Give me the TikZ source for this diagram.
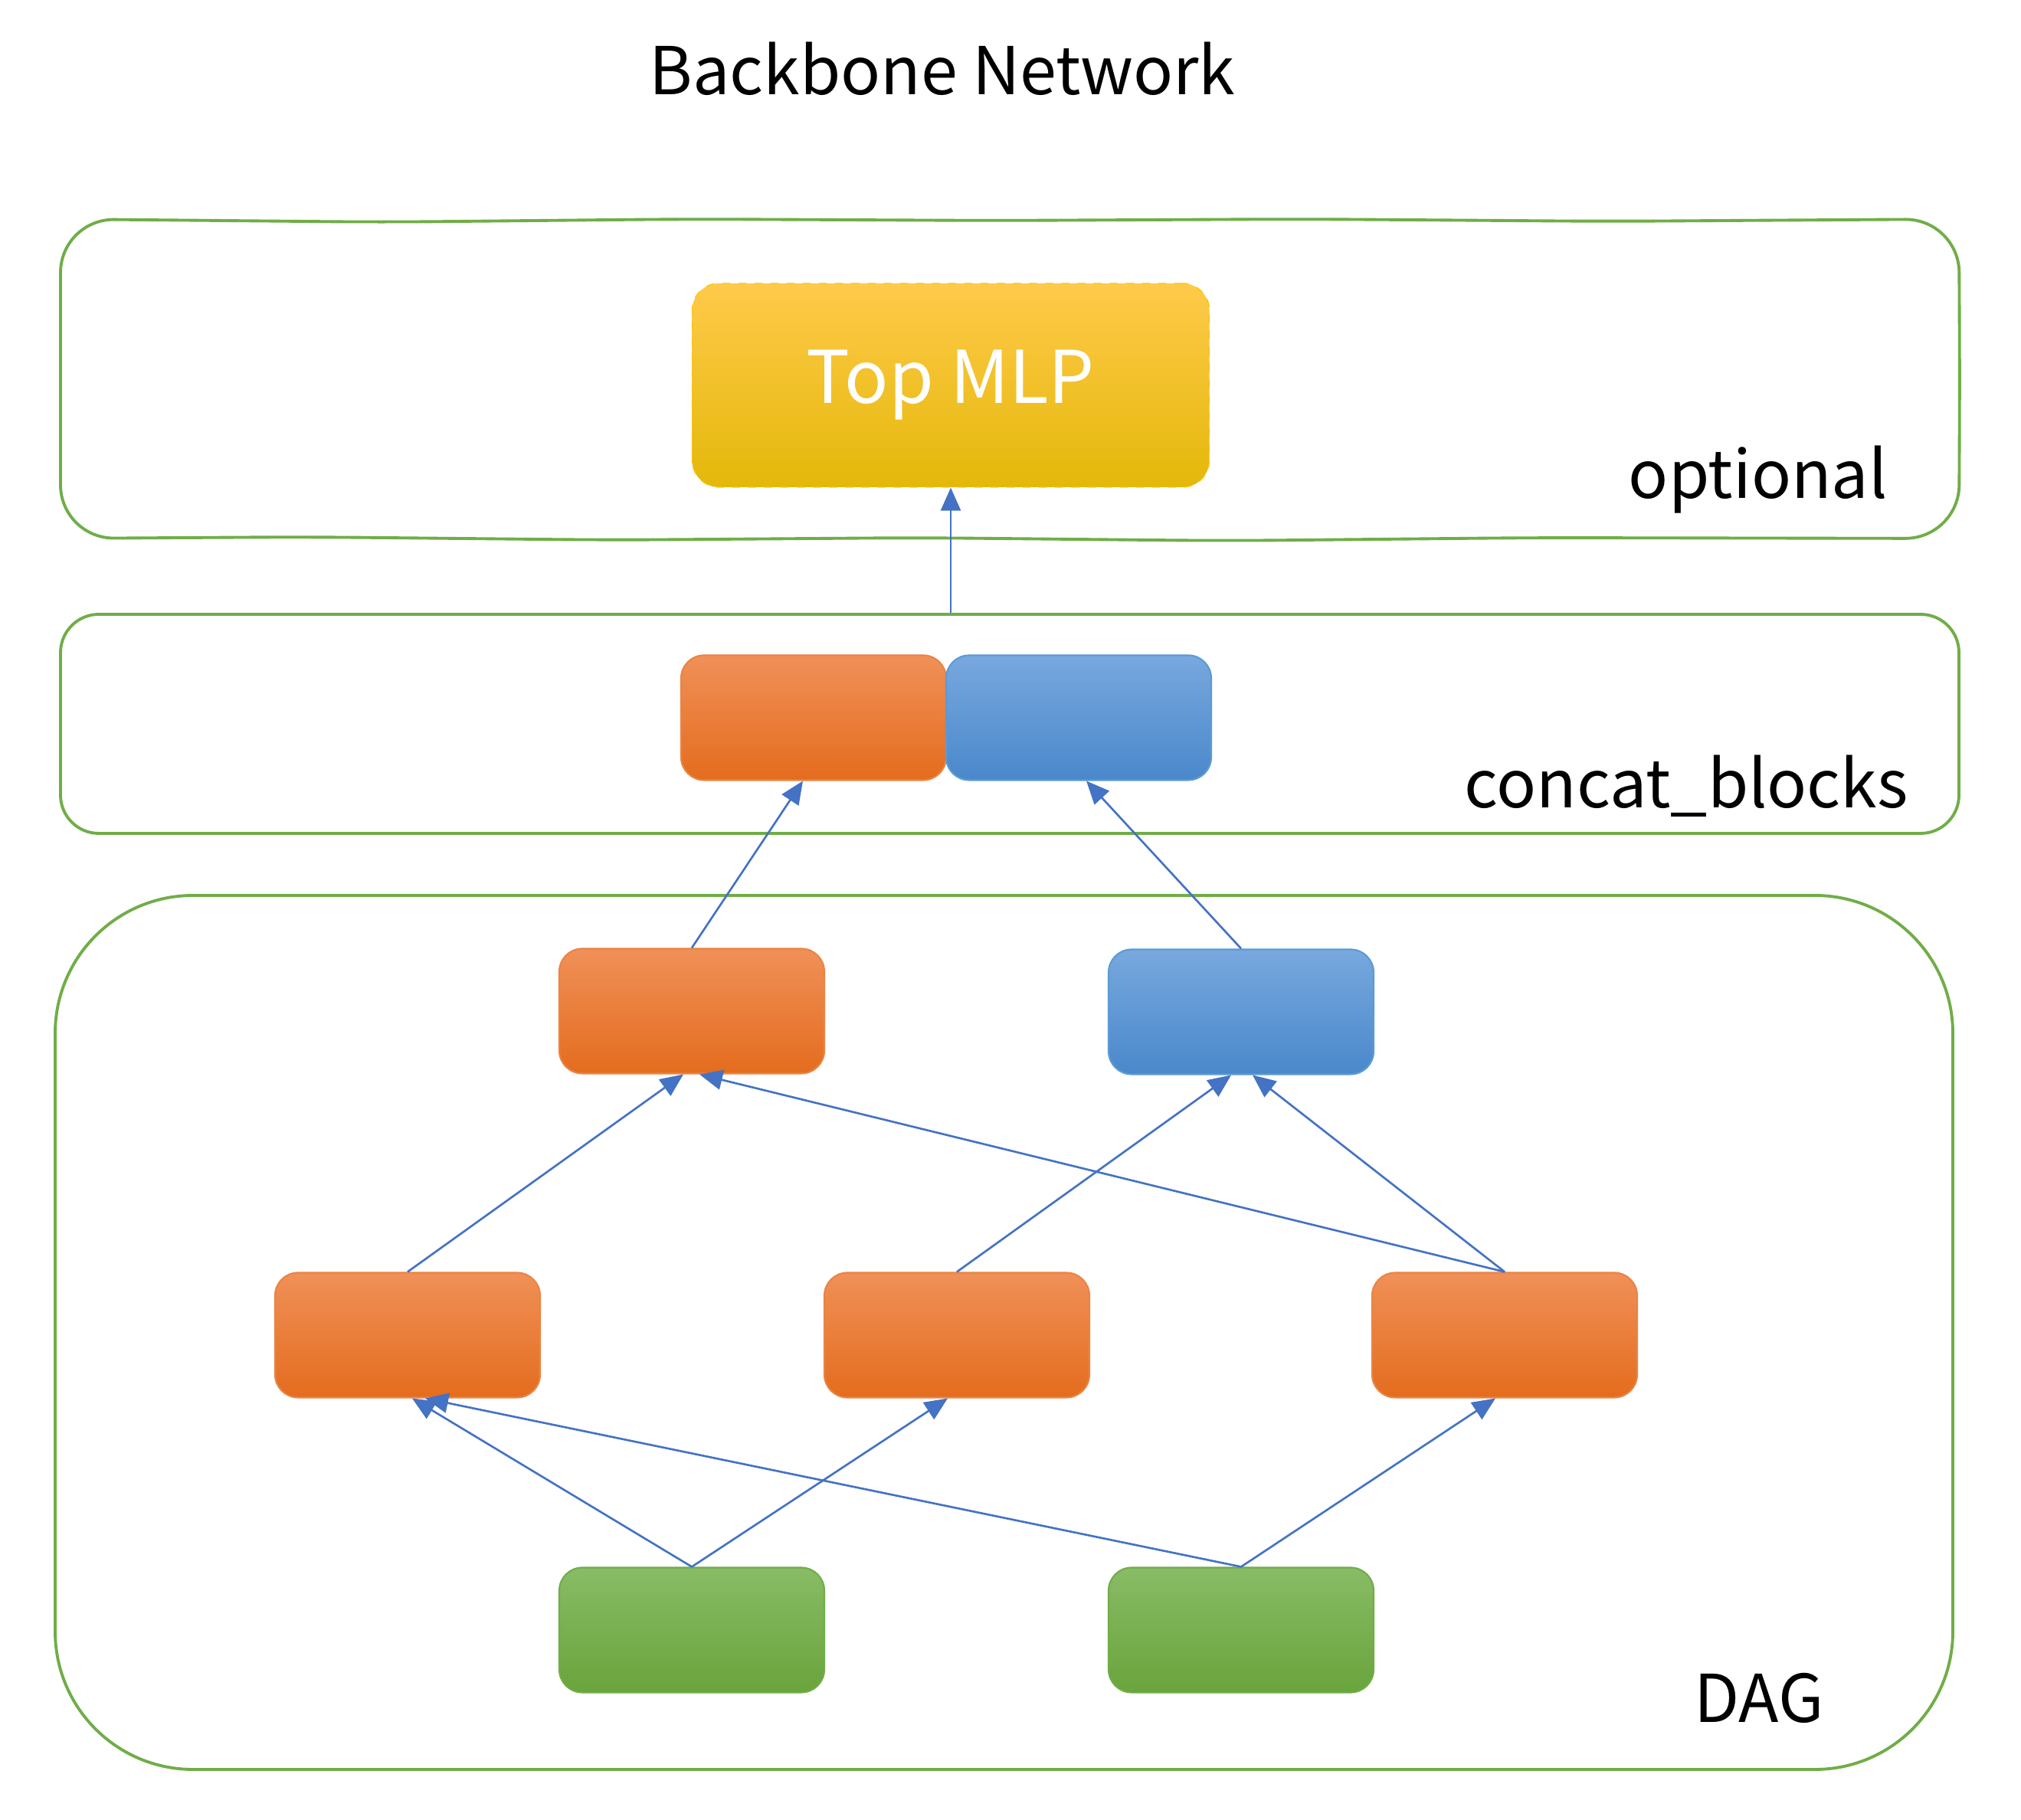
\documentclass[tikz,border=0pt]{standalone}
\usepackage{fontspec}
\setmainfont{Noto Sans CJK SC}
\usetikzlibrary{arrows.meta,positioning}

\definecolor{framegreen}{HTML}{70AD47}
\definecolor{linkblue}{HTML}{4472C4}
\definecolor{orantop}{HTML}{F09058}
\definecolor{oranbot}{HTML}{E46C1E}
\definecolor{oranline}{HTML}{EA8444}
\definecolor{bluetop}{HTML}{78A8DE}
\definecolor{bluebot}{HTML}{4A88CB}
\definecolor{blueline}{HTML}{5B9BD5}
\definecolor{greentop}{HTML}{88BC66}
\definecolor{greenbot}{HTML}{6AA43C}
\definecolor{goldtop}{HTML}{FFCA4A}
\definecolor{goldmid}{HTML}{FFC600}
\definecolor{goldbot}{HTML}{E4B80A}
\def\bigtxt{\fontsize{24.5}{30}\selectfont}
\def\mlptxt{\fontsize{27}{32}\selectfont}
\tikzstyle{block}=[rectangle,rounded corners=0.3cm,minimum width=3.46cm,
                   minimum height=1.63cm,line width=0.6pt]
\tikzstyle{oblock}=[block,draw=oranline,top color=orantop,bottom color=oranbot]
\tikzstyle{bblock}=[block,draw=blueline,top color=bluetop,bottom color=bluebot]
\tikzstyle{gblock}=[block,draw=framegreen,top color=greentop,bottom color=greenbot]
\tikzstyle{mlp}=[rectangle,rounded corners=0.35cm,draw=goldmid,dashed,
                 top color=goldtop,middle color=goldmid,bottom color=goldbot,
                 minimum width=6.75cm,minimum height=2.66cm,text=white]
\tikzstyle{frame}=[rectangle,draw=framegreen,line width=1.1pt]
\tikzstyle{cedge}=[color=linkblue,line width=0.75pt,
                   -{Triangle[length=0.3cm,width=0.26cm]}]

\begin{document}
\begin{tikzpicture}
  \useasboundingbox (0,0) rectangle (26.38,23.76);
  \fill[white] (0,0) rectangle (26.38,23.76);

  % Title
  \node[font=\bigtxt] (title) at (12.30,22.86) {Backbone Network};

  % Hand drawn frame round the top MLP
  \draw[framegreen,line width=1.1pt,rounded corners=0.7cm]
    (0.79,18.80) -- (0.79,16.73)
    -- (4.00,16.75) -- (8.00,16.71) -- (12.00,16.74) -- (16.00,16.70)
    -- (20.00,16.74) -- (25.57,16.73)
    -- (25.58,18.80) -- (25.57,20.90)
    -- (21.00,20.87) -- (17.00,20.90) -- (13.00,20.88) -- (9.00,20.90)
    -- (5.00,20.86) -- (0.79,20.90) -- cycle;
  \node[font=\bigtxt,anchor=east] (opt) at (24.76,17.50) {optional};
  \node[mlp,font=\mlptxt] (mlp) at (12.41,18.73) {Top MLP};

  % Concat blocks
  \node[frame,rounded corners=0.5cm,minimum width=24.78cm,minimum height=2.86cm]
    (concat) at (13.18,14.31) {};
  \node[font=\bigtxt,anchor=east] (cname) at (25.03,13.50) {concat\_blocks};
  \node[oblock] (ca) at (10.62,14.39) {};
  \node[bblock] (cb) at (14.08,14.39) {};

  % DAG
  \node[frame,rounded corners=1.8cm,minimum width=24.77cm,minimum height=11.41cm]
    (dag) at (13.105,6.365) {};
  \node[font=\bigtxt] (dname) at (22.96,1.59) {DAG};
  \node[oblock] (l1a) at (9.03,10.56) {};
  \node[bblock] (l1b) at (16.20,10.55) {};
  \node[oblock] (l2a) at (5.32,6.33) {};
  \node[oblock] (l2b) at (12.49,6.33) {};
  \node[oblock] (l2c) at (19.64,6.33) {};
  \node[gblock] (l3a) at (9.03,2.48) {};
  \node[gblock] (l3b) at (16.20,2.48) {};

  % Connectors
  \coordinate (cin) at (mlp.south |- concat.north);
  \path[cedge] (cin) edge (mlp.south);
  \foreach \src/\dst/\dx in {l1a/ca/-0.14, l1b/cb/0.10,
                             l2a/l1a/-0.11, l2c/l1a/0.10,
                             l2b/l1b/-0.13, l2c/l1b/0.15,
                             l3a/l2a/0.06, l3a/l2b/-0.12,
                             l3b/l2a/0.23, l3b/l2c/-0.12}
    \path[cedge] (\src.north) edge ([xshift=\dx cm]\dst.south);

\end{tikzpicture}
\end{document}
